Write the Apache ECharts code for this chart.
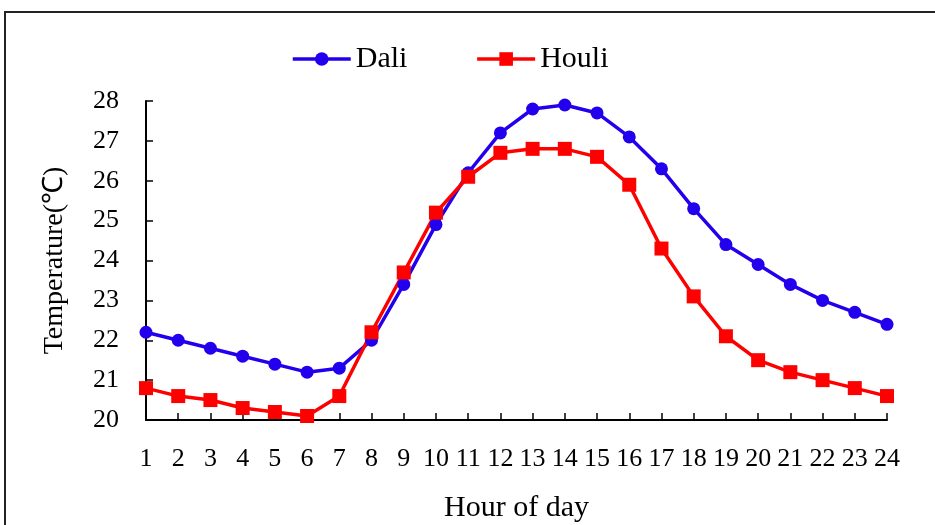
<!DOCTYPE html>
<html>
<head>
<meta charset="utf-8">
<script src="https://cdn.jsdelivr.net/npm/echarts@6/dist/echarts.min.js"></script>
<style>
  html, body { margin: 0; padding: 0; background: #fff; }
  #chart { width: 935px; height: 525px; }
</style>
</head>
<body>
<div id="chart"></div>
<script>
// Hourly mean temperature at two sites
const hours = ['1','2','3','4','5','6','7','8','9','10','11','12','13','14','15','16','17','18','19','20','21','22','23','24'];
const dali  = [22.2, 22.0, 21.8, 21.6, 21.4, 21.2, 21.3, 22.0, 23.4, 24.9, 26.2, 27.2, 27.8, 27.9, 27.7, 27.1, 26.3, 25.3, 24.4, 23.9, 23.4, 23.0, 22.7, 22.4];
const houli = [20.8, 20.6, 20.5, 20.3, 20.2, 20.1, 20.6, 22.2, 23.7, 25.2, 26.1, 26.7, 26.8, 26.8, 26.6, 25.9, 24.3, 23.1, 22.1, 21.5, 21.2, 21.0, 20.8, 20.6];

const serif = '"Liberation Serif", "Times New Roman", serif';
const chart = echarts.init(document.getElementById('chart'), null, { renderer: 'canvas' });

chart.setOption({
  backgroundColor: '#fff',
  animation: false,
  graphic: [{
    type: 'rect',
    shape: { x: 5, y: 12, width: 960, height: 560 },
    style: { fill: 'none', stroke: '#222', lineWidth: 2 },
    z: -1
  }],
  legend: {
    left: 286,
    top: 39,
    itemWidth: 58,
    itemHeight: 17,
    itemGap: 68,
    lineStyle: { width: 3.5 },
    textStyle: { fontFamily: serif, fontSize: 30, color: '#000' },
    data: ['Dali', 'Houli']
  },
  grid: { left: 146, right: 48, top: 101, bottom: 105, containLabel: false, outerBoundsMode: 'none' },
  xAxis: {
    type: 'category',
    data: hours,
    boundaryGap: false,
    name: 'Hour of day',
    nameLocation: 'middle',
    nameGap: 73,
    nameTextStyle: { fontFamily: serif, fontSize: 30, color: '#000' },
    axisLine: { lineStyle: { color: '#000', width: 2 } },
    axisTick: { inside: true, length: 7, lineStyle: { color: '#000', width: 1.5 } },
    axisLabel: { fontFamily: serif, fontSize: 26, color: '#000', margin: 26, interval: 0 },
    splitLine: { show: false }
  },
  yAxis: {
    type: 'value',
    min: 20,
    max: 28,
    interval: 1,
    name: 'Temperature(℃)',
    nameLocation: 'middle',
    nameGap: 77,
    nameTextStyle: { fontFamily: serif, fontSize: 28, color: '#000' },
    axisLine: { show: true, lineStyle: { color: '#000', width: 2 } },
    axisTick: { show: true, inside: true, length: 7, lineStyle: { color: '#000', width: 1.5 } },
    axisLabel: { fontFamily: serif, fontSize: 26, color: '#000', margin: 27 },
    splitLine: { show: false }
  },
  series: [
    {
      name: 'Dali',
      type: 'line',
      data: dali,
      color: '#2200ee',
      symbol: 'circle',
      symbolSize: 13,
      lineStyle: { width: 3.5, color: '#2200ee' },
      itemStyle: { color: '#2200ee' }
    },
    {
      name: 'Houli',
      type: 'line',
      data: houli,
      color: '#ff0000',
      symbol: 'rect',
      symbolSize: 14,
      lineStyle: { width: 3.5, color: '#ff0000' },
      itemStyle: { color: '#ff0000' }
    }
  ]
});
</script>
</body>
</html>
